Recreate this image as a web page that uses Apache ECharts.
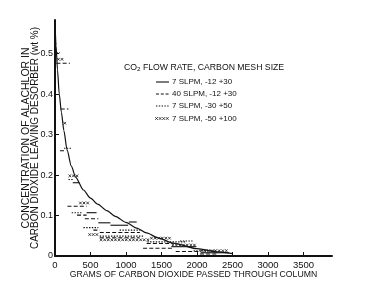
<!DOCTYPE html>
<html><head><meta charset="utf-8">
<script src="https://cdn.jsdelivr.net/npm/echarts@6/dist/echarts.min.js"></script>
<style>html,body{margin:0;padding:0;background:#fff}#c{width:368px;height:287px}</style>
</head><body><div id="c"></div>
<script>
// ---- data ----
const xTicks = [0, 500, 1000, 1500, 2000, 2500, 3000, 3500];
const yTicks = [0, 0.1, 0.2, 0.3, 0.4, 0.5];
const seriesNames = ['7 SLPM, -12 +30', '40 SLPM, -12 +30', '7 SLPM, -30 +50', '7 SLPM, -50 +100'];
// fitted curve (7 SLPM, -12 +30)
const curveX = [0, 15, 35, 60, 90, 125, 170, 230, 290, 400, 500, 600, 730, 850, 1000, 1150, 1290, 1450, 1660, 2000, 2300, 2500];
const curveY = [0.575, 0.52, 0.46, 0.40, 0.355, 0.31, 0.262, 0.222, 0.195, 0.163, 0.143, 0.128, 0.112, 0.098, 0.083, 0.069, 0.057, 0.045, 0.032, 0.018, 0.010, 0.006];
// measured intervals [start grams, end grams, concentration]
const segSolid = [[250,340,0.181],[445,585,0.107],[610,780,0.082],[780,1030,0.076],[1040,1150,0.084],[1640,1990,0.023],[2050,2450,0.008]];
const segDashed = [[20,210,0.476],[80,190,0.363],[70,160,0.26],[175,445,0.123],[310,445,0.101],[420,610,0.092],[540,630,0.064],[630,1195,0.058],[630,1190,0.045],[1240,1660,0.019],[1290,1660,0.031],[1700,2040,0.011],[2040,2300,0.005]];
const segDotted = [[20,70,0.502],[127,235,0.266],[190,260,0.189],[235,375,0.107],[400,610,0.070],[630,1240,0.049],[910,1200,0.064],[1300,1850,0.035],[1760,1940,0.037],[1950,2250,0.013]];
const segCross = [[30,140,0.486],[120,190,0.328],[190,375,0.198],[340,480,0.131],[470,630,0.053],[630,1340,0.040],[1340,1640,0.044],[1640,2000,0.027],[2040,2460,0.013]];

const FONT = 'Liberation Sans, Arial, sans-serif';
const INK = '#111';

function crossPath(x1, x2, y, step, s) {
  let d = '';
  for (let x = x1 + s; x <= x2 - s + 0.01; x += step) {
    d += 'M' + (x - s) + ' ' + (y - s) + 'L' + (x + s) + ' ' + (y + s) +
         'M' + (x - s) + ' ' + (y + s) + 'L' + (x + s) + ' ' + (y - s);
  }
  return d;
}

function segRender(kind) {
  return function (params, api) {
    const y = api.value(2);
    const p1 = api.coord([api.value(0), y]);
    const p2 = api.coord([api.value(1), y]);
    if (kind === 'cross') {
      return { type: 'path', shape: { pathData: crossPath(p1[0], p2[0], p1[1], 3.6, 1.3) },
        style: { stroke: INK, lineWidth: 0.8, fill: null } };
    }
    const dash = kind === 'dashed' ? [4, 2.2] : kind === 'dotted' ? [1.4, 1.4] : null;
    return { type: 'line', shape: { x1: p1[0], y1: p1[1], x2: p2[0], y2: p2[1] },
      style: { stroke: INK, lineWidth: 1.1, lineDash: dash } };
  };
}

function segSeries(name, data, kind) {
  return { type: 'custom', name: name, data: data, renderItem: segRender(kind),
    encode: { x: [0, 1], y: 2 }, silent: true, animation: false };
}

// legend graphic
const lgX1 = 156, lgX2 = 169, lgTX = 172;
const lgY = [82, 94, 106, 118.5];
const legendEls = [
  { type: 'text', x: 124, y: 62, style: {
      text: '{a|CO}{s|2}{a| FLOW RATE, CARBON MESH SIZE}', fill: INK,
      rich: { a: { fontFamily: FONT, fontSize: 8.7, lineHeight: 10, verticalAlign: 'bottom', fill: INK },
              s: { fontFamily: FONT, fontSize: 6.2, verticalAlign: 'bottom', fill: INK } } } },
  { type: 'line', shape: { x1: lgX1, y1: lgY[0], x2: lgX2, y2: lgY[0] }, style: { stroke: INK, lineWidth: 1.1 } },
  { type: 'line', shape: { x1: lgX1, y1: lgY[1], x2: lgX2, y2: lgY[1] }, style: { stroke: INK, lineWidth: 1.1, lineDash: [3, 1.8] } },
  { type: 'line', shape: { x1: lgX1, y1: lgY[2], x2: lgX2, y2: lgY[2] }, style: { stroke: INK, lineWidth: 1.1, lineDash: [1.4, 1.4] } }
];
for (let cx = lgX1 + 0.5; cx <= lgX2 + 0.6; cx += 3.6) {
  legendEls.push({ type: 'line', shape: { x1: cx - 1.3, y1: lgY[3] - 1.3, x2: cx + 1.3, y2: lgY[3] + 1.3 }, style: { stroke: INK, lineWidth: 0.8 } });
  legendEls.push({ type: 'line', shape: { x1: cx - 1.3, y1: lgY[3] + 1.3, x2: cx + 1.3, y2: lgY[3] - 1.3 }, style: { stroke: INK, lineWidth: 0.8 } });
}
seriesNames.forEach(function (n, i) {
  legendEls.push({ type: 'text', x: lgTX, y: lgY[i], style: { text: n, fill: INK,
    font: '8px ' + FONT, verticalAlign: 'middle', align: 'left' } });
});

const chart = echarts.init(document.getElementById('c'), null, { renderer: 'canvas' });
chart.setOption({
  animation: false,
  backgroundColor: '#fff',
  grid: { left: 55, right: 36, top: 20, bottom: 31, containLabel: false },
  xAxis: {
    type: 'value', min: 0, max: 3900, interval: 500,
    name: 'GRAMS OF CARBON DIOXIDE PASSED THROUGH COLUMN',
    nameLocation: 'middle', nameGap: 14.5, nameMoveOverlap: false,
    nameTextStyle: { fontFamily: FONT, fontSize: 8.7, color: INK },
    axisLine: { lineStyle: { color: INK, width: 2 } },
    axisTick: { inside: true, length: 4, lineStyle: { color: INK, width: 1 }, customValues: xTicks },
    axisLabel: { fontFamily: FONT, fontSize: 9.5, color: INK, margin: 4, customValues: xTicks,
      formatter: function (v) { return String(v); } },
    splitLine: { show: false }
  },
  yAxis: {
    type: 'value', min: 0, max: 0.583, interval: 0.1,
    name: '{l1|CONCENTRATION OF ALACHLOR IN}\n{l2|CARBON DIOXIDE LEAVING DESORBER (wt %)}',
    nameLocation: 'middle', nameRotate: 90, nameGap: 15, nameMoveOverlap: false,
    nameTextStyle: { color: INK, rich: {
      l1: { fontFamily: FONT, fontSize: 10.5, lineHeight: 9.5, color: INK, align: 'center' },
      l2: { fontFamily: FONT, fontSize: 10, lineHeight: 9.5, color: INK, align: 'center' } } },
    axisLine: { show: true, lineStyle: { color: INK, width: 2 } },
    axisTick: { show: true, inside: true, length: 4, lineStyle: { color: INK, width: 1 }, customValues: yTicks },
    axisLabel: { fontFamily: FONT, fontSize: 9, color: INK, margin: 2, customValues: yTicks,
      formatter: function (v) { return v === 0 ? '0' : v.toFixed(1); } },
    splitLine: { show: false }
  },
  graphic: legendEls,
  series: [
    { type: 'line', name: seriesNames[0], data: curveX.map(function (x, i) { return [x, curveY[i]]; }),
      smooth: 0.25, smoothMonotone: 'x', showSymbol: false, lineStyle: { color: INK, width: 1.2 }, silent: true },
    segSeries(seriesNames[0], segSolid, 'solid'),
    segSeries(seriesNames[1], segDashed, 'dashed'),
    segSeries(seriesNames[2], segDotted, 'dotted'),
    segSeries(seriesNames[3], segCross, 'cross')
  ]
});
</script></body></html>
